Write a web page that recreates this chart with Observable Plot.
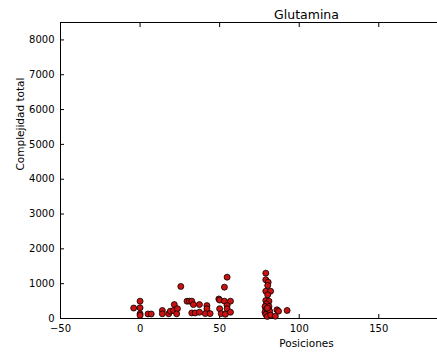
<!DOCTYPE html>
<html>
<head>
<meta charset="utf-8">
<script src="https://cdn.jsdelivr.net/npm/d3@7"></script>
<script src="https://cdn.jsdelivr.net/npm/@observablehq/plot@0.6"></script>
<style>
  html, body { margin: 0; padding: 0; background: white; overflow: hidden; }
</style>
</head>
<body>
<div id="chart"></div>
<script>
const title = "Glutamina";
const xLabel = "Posiciones";
const yLabel = "Complejidad total";
const xTicks = [-50, 0, 50, 100, 150];
const yTicks = [0, 1000, 2000, 3000, 4000, 5000, 6000, 7000, 8000];
const xDomain = [-50, 186.9];
const yDomain = [0, 8500];

const posiciones = [
  -4, 0, 0, 0, 0, 5, 7, 14, 14, 18, 19, 21.5, 21, 23.5, 23, 25.6,
  29.5, 31, 32.5, 33.5, 32.5, 34.6, 37.3, 37.3, 42, 42, 41, 44,
  49.5, 50, 53, 54.7, 53, 56.8, 54.7, 50, 54.7, 51, 53.6, 56.8,
  79, 79, 80.5, 80.2, 79, 82, 80.2, 79, 81, 79.5, 78.5, 81, 79, 81,
  78.5, 80, 81.5, 79, 80, 82, 80, 86, 87, 85, 92.4
];
const complejidad = [
  300, 497, 307, 135, 90, 130, 130, 230, 135, 135, 210, 400, 230, 280, 135, 920,
  497, 497, 497, 400, 160, 160, 400, 180, 370, 280, 140, 140,
  560, 530, 900, 1187, 497, 497, 373, 280, 280, 140, 120, 180,
  1302, 1112, 1043, 948, 784, 784, 680, 517, 497, 422, 345, 345, 250, 250,
  180, 180, 200, 115, 60, 100, 300, 250, 210, 66, 230
];

const data = posiciones.map((x, i) => ({x, y: complejidad[i]}));
const fmtX = d => d < 0 ? "\u2212" + Math.abs(d) : String(d);
const blank = () => "";

const chart = Plot.plot({
  width: 437,
  height: 353,
  marginLeft: 60,
  marginRight: 0,
  marginTop: 22,
  marginBottom: 35,
  style: {fontFamily: "DejaVu Sans", fontSize: "10px", color: "black", background: "white"},
  x: {domain: xDomain},
  y: {domain: yDomain},
  marks: [
    // tick labels
    Plot.axisX({ticks: xTicks, tickSize: 0, tickPadding: 6, label: null, tickFormat: fmtX}),
    Plot.axisY({ticks: yTicks, tickSize: 0, tickPadding: 6, label: null, tickFormat: d => String(d)}),
    // inward ticks
    Plot.axisX({ticks: xTicks, tickSize: 4, dy: -4, label: null, tickFormat: blank}),
    Plot.axisX({anchor: "top", ticks: xTicks, tickSize: 4, dy: 4, label: null, tickFormat: blank}),
    Plot.axisY({ticks: yTicks, tickSize: 4, dx: 4, label: null, tickFormat: blank}),
    // spines
    Plot.ruleY([yDomain[0]], {stroke: "black", strokeWidth: 1}),
    Plot.ruleY([yDomain[1]], {stroke: "black", strokeWidth: 1}),
    Plot.ruleX([xDomain[0]], {stroke: "black", strokeWidth: 1}),
    Plot.dot(data, {x: "x", y: "y", r: 3, fill: "#cc1111", stroke: "black", strokeWidth: 0.8}),
    Plot.text([title], {frameAnchor: "top", lineAnchor: "middle", dx: 57.5, dy: -8, fontSize: 12.5}),
    Plot.text([xLabel], {frameAnchor: "bottom", lineAnchor: "middle", dx: 57.5, dy: 25, fontSize: 10.5}),
    Plot.text([yLabel], {frameAnchor: "left", dx: -40, rotate: -90, fontSize: 10.5})
  ]
});
document.getElementById("chart").appendChild(chart);
</script>
</body>
</html>
